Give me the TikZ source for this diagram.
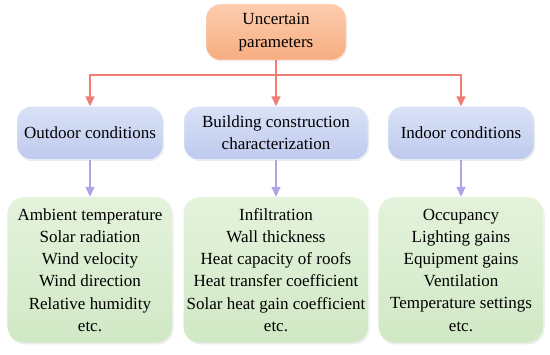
\documentclass[tikz,border=0pt]{standalone}
\usepackage{fontspec}
\setmainfont{Liberation Serif}
\usepackage{tikz}
\usetikzlibrary{calc,positioning,arrows.meta,shadows}
\definecolor{orangetop}{RGB}{253,205,175}
\definecolor{orangebot}{RGB}{247,172,128}
\definecolor{bluetop}{RGB}{218,226,247}
\definecolor{bluebot}{RGB}{190,202,238}
\definecolor{greentop}{RGB}{228,243,220}
\definecolor{greenbot}{RGB}{208,232,197}
\definecolor{redline}{RGB}{240,125,115}
\definecolor{violetline}{RGB}{172,165,232}

\begin{document}
\begin{tikzpicture}[x=1pt, y=1pt,
  topbox/.style={rounded corners=14pt, top color=orangetop, bottom color=orangebot,
    draw=white, minimum width=140pt, minimum height=56pt, align=center,
    font=\fontsize{17}{23}\selectfont,
    drop shadow={shadow xshift=1pt, shadow yshift=-1.5pt, opacity=0.15}},
  groupbox/.style={rounded corners=14pt, top color=bluetop, bottom color=bluebot,
    draw=white, minimum height=53pt, align=center,
    font=\fontsize{17}{22}\selectfont,
    drop shadow={shadow xshift=1pt, shadow yshift=-1.5pt, opacity=0.15}},
  listbox/.style={rounded corners=16pt, top color=greentop, bottom color=greenbot,
    draw=white, minimum width=165pt, minimum height=146pt, align=center,
    font=\fontsize{17}{22.2}\selectfont,
    drop shadow={shadow xshift=1pt, shadow yshift=-1.5pt, opacity=0.15}},
  redarrow/.style={-{Triangle[length=10pt, width=9pt]}, line width=1.5pt, redline},
  violetarrow/.style={-{Triangle[length=10pt, width=9pt]}, line width=1.5pt, violetline},
]
  \useasboundingbox (0,0) rectangle (550,-355);

  % top level
  \node[topbox] (uncertain) at (276,-32) {Uncertain\\parameters};

  % groups
  \node[groupbox, minimum width=146pt] (outdoor) at (90,-133) {Outdoor conditions};
  \node[groupbox, minimum width=184pt] (building) at (276,-133) {Building construction\\characterization};
  \node[groupbox, minimum width=146pt] (indoor) at (461,-133) {Indoor conditions};

  % lists
  \node[listbox] (outlist) at (90,-270) {Ambient temperature\\Solar radiation\\Wind velocity\\Wind direction\\Relative humidity\\etc.};
  \node[listbox, minimum width=184pt] (buildlist) at (276,-270) {Infiltration\\Wall thickness\\Heat capacity of roofs\\Heat transfer coefficient\\Solar heat gain coefficient\\etc.};
  \node[listbox] (inlist) at (461,-270) {Occupancy\\Lighting gains\\Equipment gains\\Ventilation\\Temperature settings\\etc.};

  % connectors
  \coordinate (split) at (276,-75);
  \draw[redarrow] (uncertain) -- (building);
  \draw[redarrow] (split) -| (outdoor);
  \draw[redarrow] (split) -| (indoor);

  \draw[violetarrow] (outdoor) -- (outlist);
  \draw[violetarrow] (building) -- (buildlist);
  \draw[violetarrow] (indoor) -- (inlist);
\end{tikzpicture}
\end{document}
